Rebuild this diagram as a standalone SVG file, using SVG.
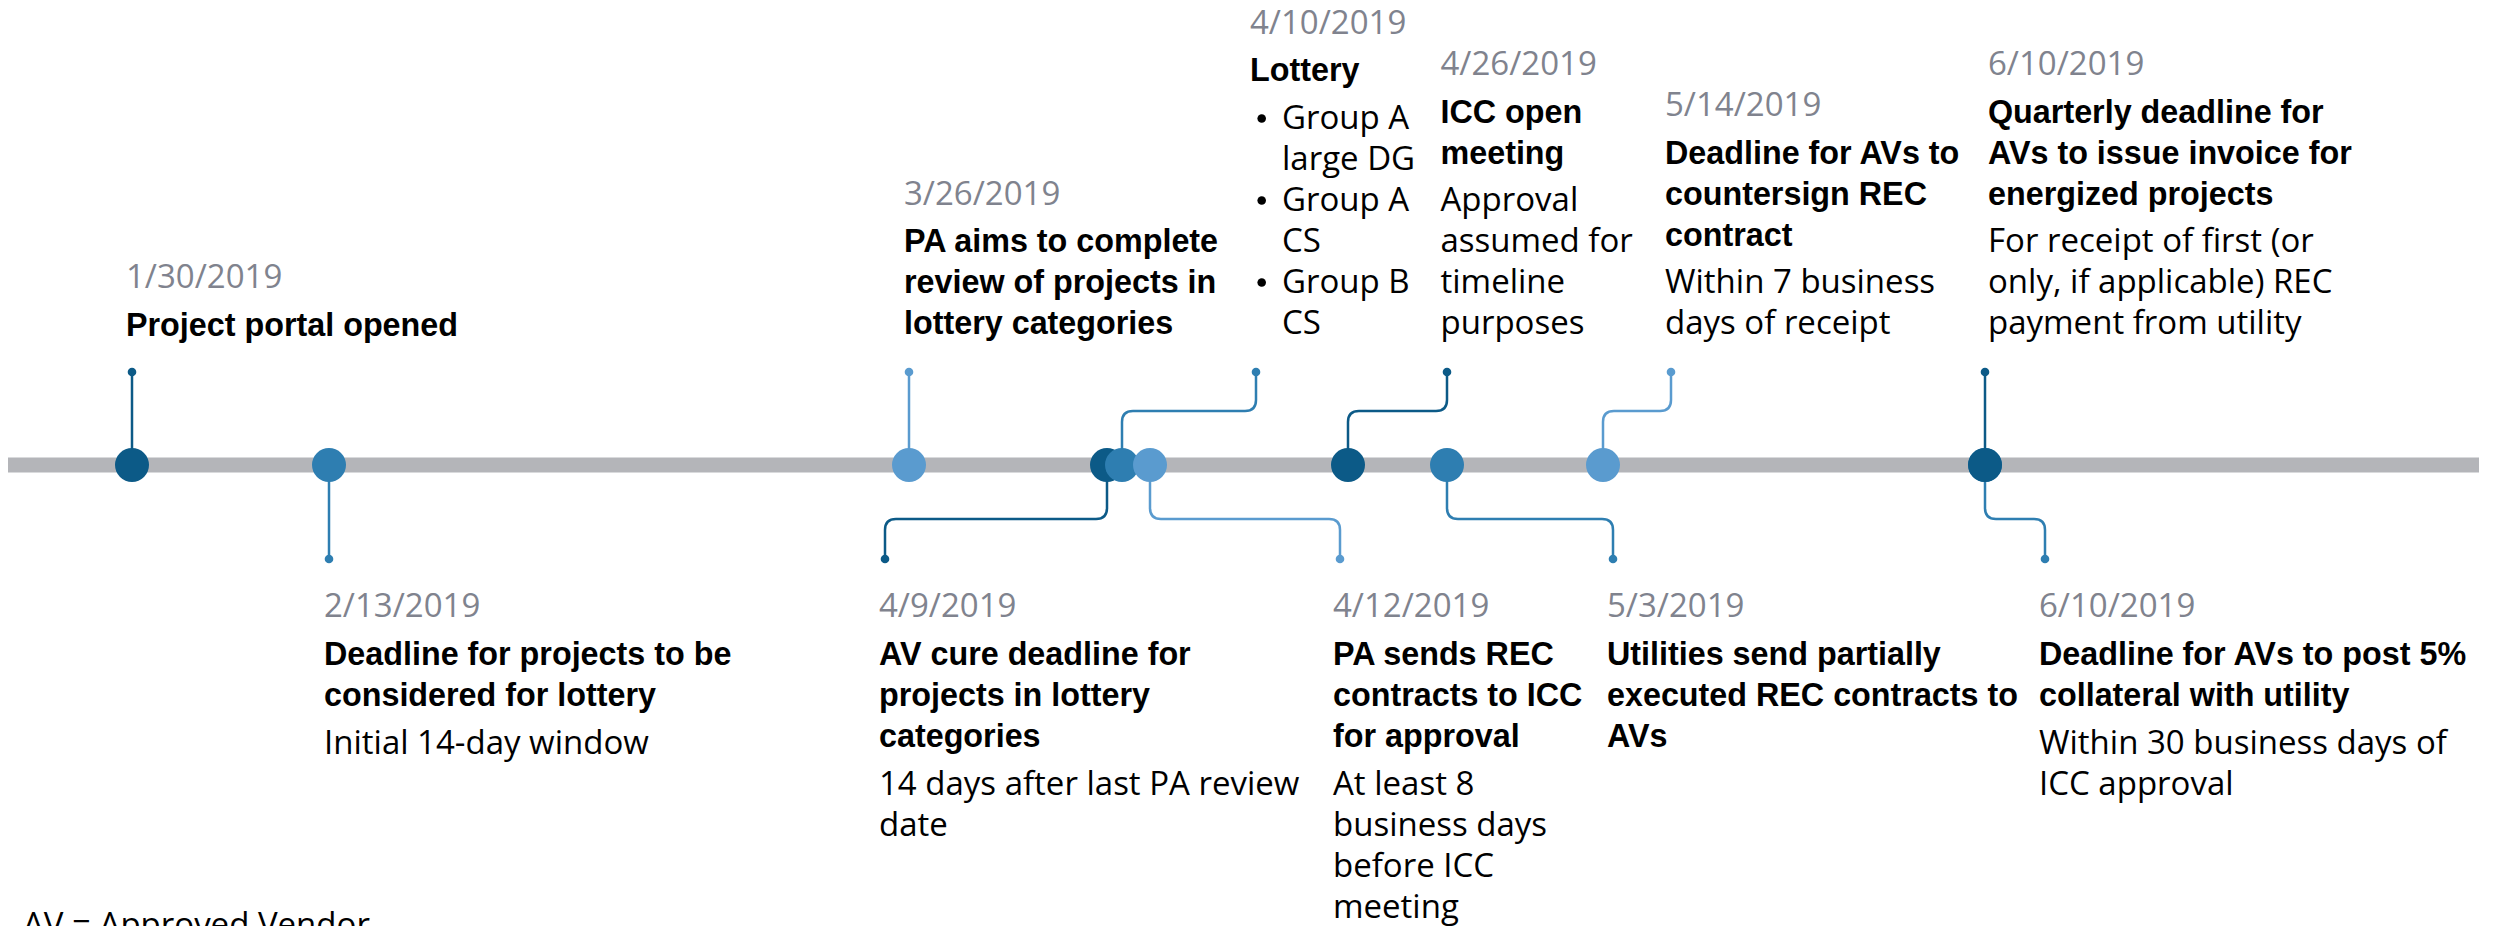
<svg xmlns="http://www.w3.org/2000/svg" width="2495" height="926" viewBox="0 0 2495 926">
<style>
.dt{font-family:"Open Sans","Liberation Sans",sans-serif;font-size:33px;fill:#80838e}
.tt{font-family:"Liberation Sans",Arial,sans-serif;font-size:32.3px;font-weight:bold;fill:#000}
.bd{font-family:"Open Sans","Liberation Sans",sans-serif;font-size:33px;fill:#000}
.c{fill:none;stroke-width:2.5}
.dk{fill:#0c5a87}.md{fill:#2e7eb1}.lt{fill:#5a9bcf}.bl{fill:#000}
.sdk{stroke:#0c5a87}.smd{stroke:#2e7eb1}.slt{stroke:#5a9bcf}
</style>
<rect width="2495" height="926" fill="#fff"/>
<rect id="timeline-bar" x="8" y="457.5" width="2471" height="15" fill="#b4b5b9"/>
<g id="connectors">
<path class="c sdk" d="M132,465V372"/>
<path class="c smd" d="M329,465V559"/>
<path class="c slt" d="M909,465V372"/>
<path class="c sdk" d="M1107,465V508Q1107,519 1096,519H896Q885,519 885,530V559"/>
<path class="c smd" d="M1122,465V422Q1122,411 1133,411H1245Q1256,411 1256,400V372"/>
<path class="c slt" d="M1150,465V508Q1150,519 1161,519H1329Q1340,519 1340,530V559"/>
<path class="c sdk" d="M1348,465V422Q1348,411 1359,411H1436Q1447,411 1447,400V372"/>
<path class="c smd" d="M1447,465V508Q1447,519 1458,519H1602Q1613,519 1613,530V559"/>
<path class="c slt" d="M1603,465V422Q1603,411 1614,411H1660Q1671,411 1671,400V372"/>
<path class="c sdk" d="M1985,465V372"/>
<path class="c smd" d="M1985,465V508Q1985,519 1996,519H2034Q2045,519 2045,530V559"/>
</g>
<g id="n-0130">
<circle class="dk" cx="132" cy="465" r="17"/><circle class="dk" cx="132" cy="372" r="4.3"/>
<text class="dt" x="126" y="288">1/30/2019</text>
<text class="tt" x="126" y="335.5">Project portal opened</text>
</g>
<g id="n-0213">
<circle class="md" cx="329" cy="465" r="17"/><circle class="md" cx="329" cy="559" r="4.3"/>
<text class="dt" x="324" y="617">2/13/2019</text>
<text class="tt" x="324" y="665">Deadline for projects to be</text>
<text class="tt" x="324" y="706">considered for lottery</text>
<text class="bd" x="324" y="754">Initial 14-day window</text>
</g>
<g id="n-0326">
<circle class="lt" cx="909" cy="465" r="17"/><circle class="lt" cx="909" cy="372" r="4.3"/>
<text class="dt" x="904" y="204.7">3/26/2019</text>
<text class="tt" x="904" y="252.3">PA aims to complete</text>
<text class="tt" x="904" y="293.3">review of projects in</text>
<text class="tt" x="904" y="334.3">lottery categories</text>
</g>
<g id="n-0409">
<circle class="dk" cx="1107" cy="465" r="17"/><circle class="dk" cx="885" cy="559" r="4.3"/>
<text class="dt" x="879" y="617">4/9/2019</text>
<text class="tt" x="879" y="665">AV cure deadline for</text>
<text class="tt" x="879" y="706">projects in lottery</text>
<text class="tt" x="879" y="747">categories</text>
<text class="bd" x="879" y="795">14 days after last PA review</text>
<text class="bd" x="879" y="836">date</text>
</g>
<g id="n-0410">
<circle class="md" cx="1122" cy="465" r="17"/><circle class="md" cx="1256" cy="372" r="4.3"/>
<text class="dt" x="1250" y="33.5">4/10/2019</text>
<text class="tt" x="1250" y="80.5">Lottery</text>
<circle class="bl" cx="1261.7" cy="118.5" r="4.3"/><text class="bd" x="1282" y="129.3">Group A</text>
<text class="bd" x="1282" y="170.3">large DG</text>
<circle class="bl" cx="1261.7" cy="200.5" r="4.3"/><text class="bd" x="1282" y="211.3">Group A</text>
<text class="bd" x="1282" y="252.3">CS</text>
<circle class="bl" cx="1261.7" cy="282.5" r="4.3"/><text class="bd" x="1282" y="293.3">Group B</text>
<text class="bd" x="1282" y="334.3">CS</text>
</g>
<g id="n-0412">
<circle class="lt" cx="1150" cy="465" r="17"/><circle class="lt" cx="1340" cy="559" r="4.3"/>
<text class="dt" x="1333" y="617">4/12/2019</text>
<text class="tt" x="1333" y="665">PA sends REC</text>
<text class="tt" x="1333" y="706">contracts to ICC</text>
<text class="tt" x="1333" y="747">for approval</text>
<text class="bd" x="1333" y="795">At least 8</text>
<text class="bd" x="1333" y="836">business days</text>
<text class="bd" x="1333" y="877">before ICC</text>
<text class="bd" x="1333" y="918">meeting</text>
</g>
<g id="n-0426">
<circle class="dk" cx="1348" cy="465" r="17"/><circle class="dk" cx="1447" cy="372" r="4.3"/>
<text class="dt" x="1440.5" y="75.1">4/26/2019</text>
<text class="tt" x="1440.5" y="122.7">ICC open</text>
<text class="tt" x="1440.5" y="163.7">meeting</text>
<text class="bd" x="1440.5" y="211.3">Approval</text>
<text class="bd" x="1440.5" y="252.3">assumed for</text>
<text class="bd" x="1440.5" y="293.3">timeline</text>
<text class="bd" x="1440.5" y="334.3">purposes</text>
</g>
<g id="n-0503">
<circle class="md" cx="1447" cy="465" r="17"/><circle class="md" cx="1613" cy="559" r="4.3"/>
<text class="dt" x="1607" y="617">5/3/2019</text>
<text class="tt" x="1607" y="665">Utilities send partially</text>
<text class="tt" x="1607" y="706">executed REC contracts to</text>
<text class="tt" x="1607" y="747">AVs</text>
</g>
<g id="n-0514">
<circle class="lt" cx="1603" cy="465" r="17"/><circle class="lt" cx="1671" cy="372" r="4.3"/>
<text class="dt" x="1665" y="116.1">5/14/2019</text>
<text class="tt" x="1665" y="163.7">Deadline for AVs to</text>
<text class="tt" x="1665" y="204.7">countersign REC</text>
<text class="tt" x="1665" y="245.7">contract</text>
<text class="bd" x="1665" y="293.3">Within 7 business</text>
<text class="bd" x="1665" y="334.3">days of receipt</text>
</g>
<g id="n-0610b">
<circle class="md" cx="1985" cy="465" r="17"/><circle class="md" cx="2045" cy="559" r="4.3"/>
<text class="dt" x="2039" y="617">6/10/2019</text>
<text class="tt" x="2039" y="665">Deadline for AVs to post 5%</text>
<text class="tt" x="2039" y="706">collateral with utility</text>
<text class="bd" x="2039" y="754">Within 30 business days of</text>
<text class="bd" x="2039" y="795">ICC approval</text>
</g>
<g id="n-0610a">
<circle class="dk" cx="1985" cy="465" r="17"/><circle class="dk" cx="1985" cy="372" r="4.3"/>
<text class="dt" x="1988" y="75.1">6/10/2019</text>
<text class="tt" x="1988" y="122.7">Quarterly deadline for</text>
<text class="tt" x="1988" y="163.7">AVs to issue invoice for</text>
<text class="tt" x="1988" y="204.7">energized projects</text>
<text class="bd" x="1988" y="252.3">For receipt of first (or</text>
<text class="bd" x="1988" y="293.3">only, if applicable) REC</text>
<text class="bd" x="1988" y="334.3">payment from utility</text>
</g>
<text id="footnote" class="bd" x="23" y="935.5">AV = Approved Vendor</text>
</svg>
